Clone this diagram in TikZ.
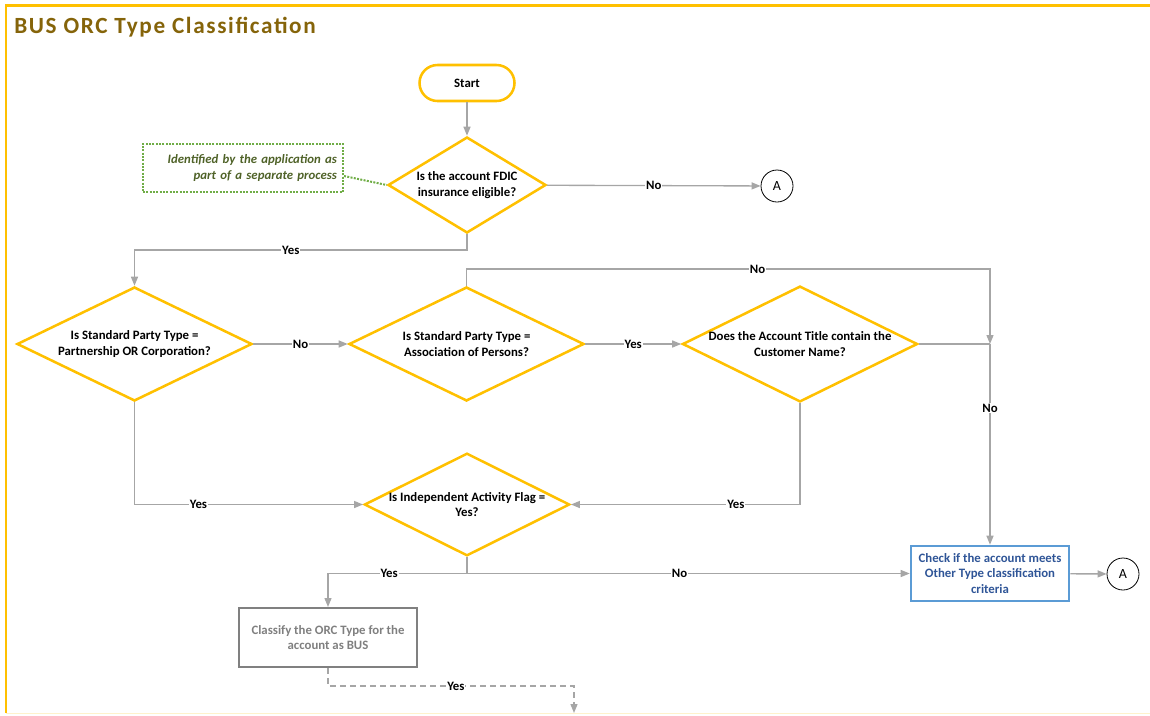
\documentclass[tikz,border=0pt]{standalone}
\usepackage{fontspec}
\setmainfont{Carlito}
\usetikzlibrary{shapes.geometric,arrows.meta}
\definecolor{gold}{HTML}{FFC000}
\definecolor{lnk}{HTML}{A6A6A6}
\definecolor{titlec}{RGB}{133,100,10}
\definecolor{notec}{HTML}{4F6228}
\definecolor{notebd}{HTML}{70AD47}
\definecolor{bluebd}{HTML}{5B9BD5}
\definecolor{bluetx}{HTML}{2F5597}
\definecolor{greybd}{HTML}{808080}
\definecolor{greytx}{HTML}{7F7F7F}
\definecolor{paley}{HTML}{FFF2CC}
\tikzset{
  txt/.style={font=\bfseries\fontsize{9.6}{11.5}\selectfont},
  dia/.style={diamond, draw=gold, line width=1.9pt, inner sep=0pt, aspect=2, align=center, txt},
  startbox/.style={rectangle, rounded corners=13.5pt, draw=gold, line width=1.9pt, minimum width=71.25pt, minimum height=27pt, txt},
  notebox/.style={rectangle, draw=notebd, line width=1.5pt, dash pattern=on 1.5pt off 1pt, minimum width=150pt, minimum height=36pt, text width=141pt, align=right, inner sep=0pt, text=notec, font=\bfseries\itshape\fontsize{9.6}{11.5}\selectfont},
  otherbox/.style={rectangle, draw=bluebd, line width=1.9pt, minimum width=118.5pt, minimum height=41.25pt, align=center, inner sep=0pt, text=bluetx, txt},
  busbox/.style={rectangle, draw=greybd, line width=1.5pt, minimum width=133.5pt, minimum height=44.25pt, align=center, inner sep=0pt, text=greytx, txt},
  conn/.style={circle, draw=black, line width=0.6pt, minimum size=24pt, inner sep=0pt, font=\fontsize{10.5}{12}\selectfont},
  line/.style={draw=lnk, line width=1pt},
  arr/.style={line, -{Triangle[length=6.75pt,width=5.25pt]}},
  lbl/.style={fill=white, inner sep=0.6pt, txt},
}
\begin{document}
\begin{tikzpicture}[x=0.75pt,y=-0.75pt]
\useasboundingbox (0,0) rectangle (1150,715);
% frame
\draw[gold, line width=1.9pt] (1150,5.3) -- (5.8,5.3) -- (5.8,713);
\draw[paley, line width=1pt] (5.8,713.3) -- (1150,713.3);
\node[anchor=base west, inner sep=0pt, text=titlec, font=\bfseries\fontsize{17.4}{19}\selectfont\addfontfeature{LetterSpace=7}] (title) at (14,33.3) {BUS ORC Type Classification};

% nodes
\node[startbox] (start) at (467,83) {Start};
\node[dia, minimum width=118.5pt, minimum height=72pt] (D1) at (467,185) {Is the account FDIC\\insurance eligible?};
\node[notebox] (note) at (243,168) {Identified by the application as\\part of a separate process};
\node[conn] (A1) at (777,186) {A};
\node[dia, minimum width=176.25pt, minimum height=85.5pt] (D2) at (134.5,344) {Is Standard Party Type =\\Partnership OR Corporation?};
\node[dia, minimum width=176.25pt, minimum height=85.5pt] (D3) at (466.5,344) {Is Standard Party Type =\\Association of Persons?};
\node[dia, minimum width=176.25pt, minimum height=85.5pt] (D4) at (800,344) {Does the Account Title contain the\\Customer Name?};
\node[dia, minimum width=153pt, minimum height=75.75pt] (D5) at (467,504.5) {Is Independent Activity Flag =\\Yes?};
\node[otherbox] (other) at (990,573.5) {Check if the account meets\\Other Type classification\\criteria};
\node[conn] (A2) at (1123,574) {A};
\node[busbox] (bus) at (328,637.5) {Classify the ORC Type for the\\account as BUS};

% bend coordinates
\coordinate (b1) at (467,250);
\coordinate (b2) at (134.5,250);
\coordinate (b3) at (466.5,269);
\coordinate (b4) at (990,269);
\coordinate (j1) at (990,344);
\coordinate (b5) at (134.5,504.5);
\coordinate (b6) at (800,504.5);
\coordinate (b7) at (467,573.5);
\coordinate (b8) at (328,573.5);
\coordinate (b9) at (328,686);
\coordinate (b10) at (574,686);
\coordinate (e1) at (574,713);

% connectors
\draw[notebd, line width=1.5pt, dash pattern=on 1.5pt off 1pt] ([yshift=-6pt]note.east) -- (D1.west);
\draw[arr] (start) -- (D1);
\draw[arr] (D1) -- node[lbl]{No} (A1);
\draw[arr] (D1.south) -- (b1) -- node[lbl,pos=0.53]{Yes} (b2) -- (D2.north);
\draw[arr] (D2) -- node[lbl]{No} (D3);
\draw[arr] (D3) -- node[lbl]{Yes} (D4);
\draw[arr] (D3.north) -- (b3) -- node[lbl,pos=0.556]{No} (b4) -- (j1);
\draw[line] (D4.east) -- (j1);
\draw[arr] (j1) -- node[lbl,pos=0.32]{No} (other.north);
\draw[arr] (D2.south) -- (b5) -- node[lbl,pos=0.28]{Yes} (D5.west);
\draw[arr] (D4.south) -- (b6) -- node[lbl,pos=0.28]{Yes} (D5.east);
\draw[arr] (D5.south) -- (b7) -- node[lbl,pos=0.56]{Yes} (b8) -- (bus.north);
\draw[arr] (b7) -- node[lbl,pos=0.48]{No} (other.west);
\draw[arr] (other) -- (A2);
\draw[arr, dash pattern=on 4.5pt off 3pt] (bus.south) -- (b9) -- node[lbl,pos=0.52]{Yes} (b10) -- (e1);
\end{tikzpicture}
\end{document}
